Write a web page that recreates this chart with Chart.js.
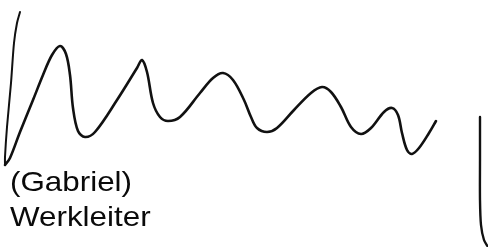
<!DOCTYPE html>
<html>
<head>
<meta charset="utf-8">
<script src="https://cdn.jsdelivr.net/npm/chart.js@4/dist/chart.umd.min.js"></script>
<style>
  html, body { margin:0; padding:0; background:#fff; }
  .wrap { position:relative; width:488px; height:247px; overflow:hidden; }
  canvas { position:absolute; left:0; top:0; }
  .lbl { position:absolute; left:10px; font-family:"Liberation Sans", Arial, sans-serif; font-size:28px; line-height:28px; color:#0a0a0a; transform:scaleX(1.12); transform-origin:0 0; white-space:nowrap; }
</style>
</head>
<body>
<div class="wrap">
  <canvas id="sig" width="488" height="247"></canvas>
  <div class="lbl" id="nameLbl" style="top:168px"></div>
  <div class="lbl" id="roleLbl" style="top:203px"></div>
</div>
<script>
// signature strokes, in picture pixels (x right, y down)
const nameText = '(Gabriel)';
const roleText = 'Werkleiter';

const upStrokeX = [20, 17, 14, 11, 7, 5, 5];
const upStrokeY = [12, 23, 43, 83, 127, 157, 165];

const waveX = [5, 10, 20, 33, 43, 52, 60, 66, 70, 73, 78, 85, 95, 117, 137, 142, 147, 153, 160, 168, 180, 200, 213, 223, 233, 244,
               251, 257, 267, 277, 294, 311, 322, 331, 341, 351, 361, 371, 384, 392, 398, 402, 407, 412, 419, 429, 436];
const waveY = [165, 158, 132, 100, 75, 55, 46, 54, 75, 108, 131, 137, 132, 100, 68, 60, 72, 103, 117, 121, 117, 93, 78, 73, 80, 100,
               117, 128, 132, 128, 110, 93, 87, 92, 107, 127, 134, 128, 112, 108, 115, 133, 150, 154, 148, 133, 121];

const barX = [480, 480, 480, 481, 484, 488];
const barY = [117, 160, 200, 225, 240, 247];

const pts = (xs, ys) => xs.map((x, i) => ({ x, y: ys[i] }));

document.getElementById('nameLbl').textContent = nameText;
document.getElementById('roleLbl').textContent = roleText;

const line = (data, w, t) => ({
  data, showLine:true, borderColor:'#111', borderWidth:w, pointRadius:0,
  tension:t, borderCapStyle:'round', borderJoinStyle:'round', fill:false
});

new Chart(document.getElementById('sig').getContext('2d'), {
  type: 'scatter',
  data: { datasets: [
    line(pts(upStrokeX, upStrokeY), 2, 0.3),
    line(pts(waveX, waveY), 2.6, 0.35),
    line(pts(barX, barY), 2.4, 0.3)
  ]},
  options: {
    responsive:false, animation:false, clip:false,
    layout:{ padding:0 },
    plugins:{ legend:{display:false}, tooltip:{enabled:false} },
    scales:{
      x:{ type:'linear', min:0, max:488, display:false },
      y:{ type:'linear', min:0, max:247, reverse:true, display:false }
    }
  }
});
</script>
</body>
</html>
